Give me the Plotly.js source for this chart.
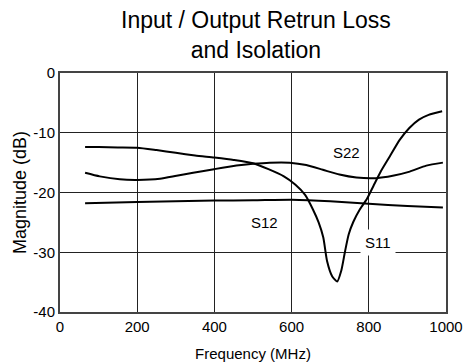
<!DOCTYPE html>
<html>
<head>
<meta charset="utf-8">
<script src="https://cdn.plot.ly/plotly-3.0.1.min.js"></script>
<style>html,body{margin:0;padding:0;background:#fff;}#chart{width:467px;height:362px;}</style>
</head>
<body>
<div id="chart"></div>
<script>
// S11 (input return loss)
const s11Freq = [65, 100, 150, 200, 250, 300, 350, 400, 450, 500, 540, 580, 610, 635, 655, 670, 682, 692, 705, 718, 729, 738, 748, 760, 777, 795, 812, 830, 855, 880, 905, 930, 955, 990];
const s11Mag  = [-12.4, -12.4, -12.45, -12.5, -12.9, -13.35, -13.8, -14.15, -14.55, -15.1, -16.1, -17.3, -18.7, -20.4, -22.8, -25.0, -27.5, -31.5, -34.0, -34.9, -33.0, -30.0, -27.0, -24.9, -22.8, -21.1, -18.9, -16.6, -13.9, -11.2, -9.2, -7.8, -7.0, -6.4];
// S22 (output return loss)
const s22Freq = [65, 103, 155, 201, 259, 302, 345, 399, 457, 500, 543, 595, 638, 681, 724, 768, 819, 862, 906, 949, 992];
const s22Mag  = [-16.7, -17.3, -17.8, -17.9, -17.7, -17.2, -16.7, -16.1, -15.5, -15.2, -15.0, -15.0, -15.4, -16.2, -17.0, -17.5, -17.6, -17.2, -16.5, -15.5, -15.0];
// S12 (isolation)
const s12Freq = [65, 200, 400, 500, 600, 700, 800, 900, 992];
const s12Mag  = [-21.8, -21.6, -21.35, -21.3, -21.2, -21.45, -21.9, -22.25, -22.5];

const xTicks = [0, 200, 400, 600, 800, 1000];
const yTicks = [0, -10, -20, -30, -40];
const labels = [
  {text: 'S22', x: 741, y: -13.3},
  {text: 'S12', x: 530, y: -25.1},
  {text: 'S11', x: 825, y: -28.4}
];

const FONT = 'Arial, "Liberation Sans", sans-serif';
const line = {color: '#000', width: 2, shape: 'spline', smoothing: 0.6};

const traces = [
  {x: s11Freq, y: s11Mag, name: 'S11', mode: 'lines', line: line},
  {x: s22Freq, y: s22Mag, name: 'S22', mode: 'lines', line: line},
  {x: s12Freq, y: s12Mag, name: 'S12', mode: 'lines', line: line}
];

const layout = {
  width: 467, height: 362,
  margin: {l: 60, r: 21, t: 73, b: 50, pad: 0},
  paper_bgcolor: '#fff', plot_bgcolor: '#fff',
  showlegend: false,
  font: {family: FONT, color: '#000', size: 15},
  title: {text: 'Input / Output Retrun Loss<br>and Isolation', font: {size: 23, family: FONT, color: '#000'},
          x: 0.548, xanchor: 'center', yref: 'container', y: 0.922, yanchor: 'middle'},
  xaxis: {
    range: [0, 1000], tickvals: xTicks, ticktext: xTicks.map(String),
    showgrid: true, gridcolor: '#222', gridwidth: 1, zeroline: false,
    showline: true, linecolor: '#444', linewidth: 2, mirror: true,
    ticks: '', tickfont: {size: 15},
    title: {text: 'Frequency (MHz)', font: {size: 15}, standoff: 15}
  },
  yaxis: {
    range: [-40, 0], tickvals: yTicks, ticktext: yTicks.map(String),
    showgrid: true, gridcolor: '#222', gridwidth: 1, zeroline: false,
    showline: true, linecolor: '#444', linewidth: 2, mirror: true,
    ticks: '', tickfont: {size: 15},
    title: {text: 'Magnitude (dB)', font: {size: 18}, standoff: 2}
  },
  annotations: labels.map(l => ({
    text: l.text, x: l.x, y: l.y, xref: 'x', yref: 'y', showarrow: false,
    font: {size: 15, family: FONT, color: '#000'},
    bgcolor: l.text === 'S11' ? '#fff' : 'rgba(0,0,0,0)', borderpad: 4
  }))
};

Plotly.newPlot('chart', traces, layout, {displayModeBar: false, staticPlot: true});
</script>
</body>
</html>
